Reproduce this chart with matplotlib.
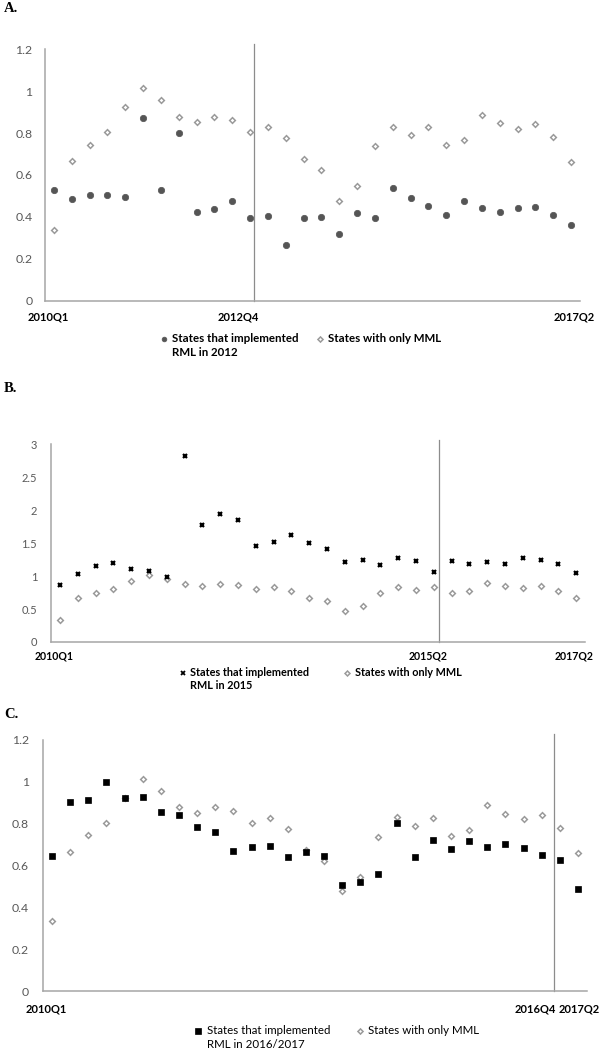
import matplotlib
matplotlib.use("Agg")
import matplotlib.pyplot as plt
from matplotlib.lines import Line2D

# ---------------- data ----------------
quarters = ["2010Q1", "2010Q2", "2010Q3", "2010Q4", "2011Q1", "2011Q2", "2011Q3", "2011Q4",
            "2012Q1", "2012Q2", "2012Q3", "2012Q4", "2013Q1", "2013Q2", "2013Q3", "2013Q4",
            "2014Q1", "2014Q2", "2014Q3", "2014Q4", "2015Q1", "2015Q2", "2015Q3", "2015Q4",
            "2016Q1", "2016Q2", "2016Q3", "2016Q4", "2017Q1", "2017Q2"]

mml_only = [0.335, 0.666, 0.744, 0.803, 0.925, 1.013, 0.956, 0.878, 0.853, 0.878,
            0.860, 0.804, 0.829, 0.777, 0.674, 0.624, 0.477, 0.547, 0.736, 0.830,
            0.789, 0.829, 0.742, 0.769, 0.888, 0.846, 0.821, 0.843, 0.781, 0.661]

rml_2012 = [0.529, 0.486, 0.502, 0.505, 0.494, 0.870, 0.527, 0.802, 0.422, 0.437,
            0.473, 0.394, 0.403, 0.263, 0.392, 0.400, 0.320, 0.419, 0.394, 0.539,
            0.488, 0.453, 0.410, 0.476, 0.443, 0.422, 0.443, 0.446, 0.410, 0.359]

rml_2015 = [0.872, 1.031, 1.158, 1.204, 1.107, 1.071, 0.985, 2.827, 1.782, 1.949,
            1.848, 1.452, 1.518, 1.619, 1.508, 1.406, 1.219, 1.240, 1.163, 1.270,
            1.230, 1.056, 1.230, 1.179, 1.219, 1.179, 1.276, 1.240, 1.179, 1.051]

rml_2016_17 = [0.646, 0.903, 0.912, 0.998, 0.924, 0.930, 0.854, 0.842, 0.783, 0.761,
               0.672, 0.691, 0.693, 0.643, 0.664, 0.648, 0.506, 0.521, 0.561, 0.804,
               0.639, 0.723, 0.680, 0.720, 0.691, 0.704, 0.685, 0.650, 0.626, 0.487]

labels_A = ["States that implemented\nRML in 2012", "States with only MML"]
labels_B = ["States that implemented\nRML in 2015", "States with only MML"]
labels_C = ["States that implemented\nRML in 2016/2017", "States with only MML"]

ticklabels_A = ["2010Q1", "2012Q4", "2017Q2"]
ticklabels_B = ["2010Q1", "2015Q2", "2017Q2"]
ticklabels_C = ["2010Q1", "2016Q4", "2017Q2"]

yticks_A = [0, 0.2, 0.4, 0.6, 0.8, 1.0, 1.2]
yticks_B = [0, 0.5, 1.0, 1.5, 2.0, 2.5, 3.0]
yticks_C = [0, 0.2, 0.4, 0.6, 0.8, 1.0, 1.2]

# ---------------- style ----------------
W, H = 600, 1050
FONT = ["Lato", "DejaVu Sans"]
SERIF = ["Liberation Serif", "DejaVu Serif"]
AXIS_COL = "#a6a6a6"
TICK_COL = "#595959"
VLINE_COL = "#8c8c8c"
MML_EDGE = "#9a9a9a"

fig = plt.figure(figsize=(W / 100, H / 100), dpi=100)
fig.patch.set_facecolor("white")


def fx(px):
    return px / W


def fy(py):
    return 1 - py / H


def make_axes(x0, y0, x1, y1):
    return fig.add_axes([fx(x0), fy(y1), (x1 - x0) / W, (y1 - y0) / H])


x = list(range(1, len(quarters) + 1))


def style_axes(ax, ylim, yticks, tick_pos, tick_labels, vline, ypad, xpad, fs_y, fs_x):
    ax.set_xlim(0.5, len(quarters) + 0.5)
    ax.set_ylim(*ylim)
    for s in ["top", "right"]:
        ax.spines[s].set_visible(False)
    for s in ["left", "bottom"]:
        ax.spines[s].set_color(AXIS_COL)
        ax.spines[s].set_linewidth(1.1)
    ax.set_yticks(yticks)
    ax.set_yticklabels([f"{v:g}" for v in yticks], family=FONT, fontsize=fs_y,
                       color=TICK_COL)
    ax.set_xticks(tick_pos)
    ax.set_xticklabels(tick_labels, family=FONT, fontsize=fs_x, fontweight="bold",
                       color="black")
    ax.tick_params(axis="y", length=0, pad=ypad)
    ax.tick_params(axis="x", length=0, pad=xpad)
    ax.axvline(vline, ymin=0, ymax=1.022, color=VLINE_COL, lw=0.9, clip_on=False,
               zorder=1)
    ax.patch.set_alpha(0)


def legend_manual(items, y_first, line_gap, fs, weight):
    for (mx, tx, label, mkw) in items:
        fig.add_artist(Line2D([fx(mx)], [fy(y_first)], transform=fig.transFigure,
                              linestyle="none", **mkw))
        for i, line in enumerate(label.split("\n")):
            fig.text(fx(tx), fy(y_first + i * line_gap), line, family=FONT,
                     fontsize=fs, fontweight=weight, ha="left", va="center")


mml_kw = dict(marker="D", markersize=2.9, markerfacecolor="white",
              markeredgecolor=MML_EDGE, markeredgewidth=1.1)
circ_kw = dict(marker="o", markersize=4.6, markerfacecolor="#555555",
               markeredgecolor="#555555", markeredgewidth=0.5)
x_kw = dict(marker="x", markersize=3.4, markeredgecolor="black", markeredgewidth=1.6)
sq_kw = dict(marker="s", markersize=4.8, markerfacecolor="black",
             markeredgecolor="black", markeredgewidth=0.5)

# ---------------- panel A ----------------
fig.text(fx(4), fy(8), "A.", family=SERIF, fontsize=10.5, fontweight="bold",
         ha="left", va="center")
axA = make_axes(45, 49.3, 580, 300.5)
axA.plot(x, mml_only, linestyle="none", zorder=3, **mml_kw)
axA.plot(x, rml_2012, linestyle="none", zorder=4, **circ_kw)
style_axes(axA, (0, 1.2), yticks_A, [0.67, 11.34, 30.2], ticklabels_A, 12.2,
           ypad=9, xpad=8, fs_y=8.8, fs_x=8.0)
legend_manual([(164, 172, labels_A[0], {**circ_kw, "markersize": 3.4}),
               (320, 328, labels_A[1], {**mml_kw, "markersize": 2.6})], 339, 14, 8.3, "bold")

# ---------------- panel B ----------------
fig.text(fx(4), fy(388), "B.", family=SERIF, fontsize=10.5, fontweight="bold",
         ha="left", va="center")
axB = make_axes(51, 444.3, 585, 642)
axB.plot(x, mml_only, linestyle="none", zorder=3, **mml_kw)
axB.plot(x, rml_2015, linestyle="none", zorder=4, **x_kw)
style_axes(axB, (0, 3), yticks_B, [0.67, 21.7, 29.9], ticklabels_B, 22.3,
           ypad=10, xpad=6, fs_y=8.0, fs_x=7.6)
legend_manual([(183, 190, labels_B[0], {**x_kw, "markersize": 3.0, "markeredgewidth": 1.3}),
               (347, 355, labels_B[1], {**mml_kw, "markersize": 2.5})], 673, 12.5, 7.8, "bold")

# ---------------- panel C ----------------
fig.text(fx(4), fy(715), "C.", family=SERIF, fontsize=10.5, fontweight="bold",
         ha="left", va="center")
axC = make_axes(43, 740, 587, 991.3)
axC.plot(x, mml_only, linestyle="none", zorder=3, **mml_kw)
axC.plot(x, rml_2016_17, linestyle="none", zorder=4, **sq_kw)
style_axes(axC, (0, 1.2), yticks_C, [0.7, 27.65, 30.06], ticklabels_C, 28.7,
           ypad=10, xpad=9, fs_y=8.8, fs_x=8.0)
legend_manual([(198, 207, labels_C[0], sq_kw),
               (360, 368, labels_C[1], {**mml_kw, "markersize": 2.6})], 1031, 13.5, 8.3, "normal")

fig.savefig("out.png", dpi=100, facecolor="white")
